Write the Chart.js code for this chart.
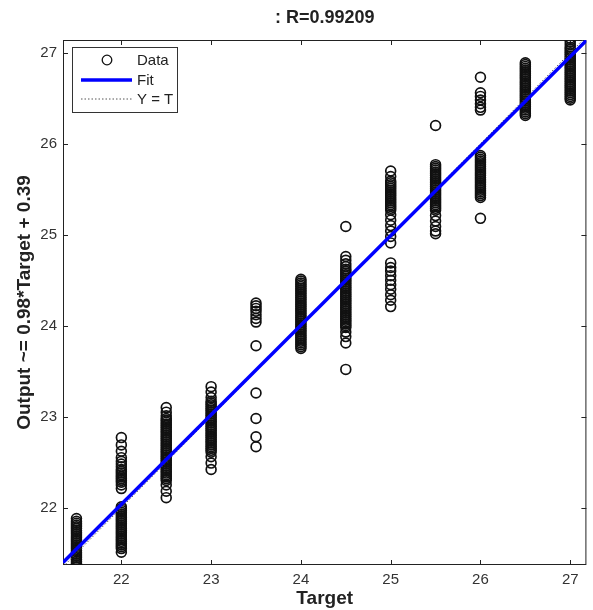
<!DOCTYPE html>
<html>
<head>
<meta charset="utf-8">
<script src="https://cdn.jsdelivr.net/npm/chart.js@4/dist/chart.umd.min.js"></script>
<style>
  html, body { margin: 0; padding: 0; background: #fff; }
  #wrap { width: 593px; height: 610px; }
</style>
</head>
<body>
<div id="wrap"><canvas id="regChart" width="593" height="610"></canvas></div>
<script>
// Regression plot: target vs network output
const TITLE = ": R=0.99209";
const X_LABEL = "Target";
const Y_LABEL = "Output ~= 0.98*Target + 0.39";
const xTicks = [22, 23, 24, 25, 26, 27];
const yTicks = [22, 23, 24, 25, 26, 27];
const xLimits = [21.35, 27.18];
const yLimits = [21.37, 27.14];
const fitSlope = 0.984;
const fitIntercept = 0.39;

const targets = [21.5, 22, 22.5, 23, 23.5, 24, 24.5, 25, 25.5, 26, 26.5, 27];
const out215 = [21.35, 21.37, 21.39, 21.41, 21.43, 21.45, 21.47, 21.49, 21.51, 21.53, 21.55, 21.57, 21.59, 21.61, 21.63, 21.65, 21.67, 21.69, 21.71, 21.73, 21.75, 21.77, 21.79, 21.81, 21.83, 21.85, 21.88];
const out22 = [22.77, 22.69, 22.62, 22.55, 22.51, 22.48, 22.45, 22.42, 22.40, 22.38, 22.36, 22.34, 22.32, 22.30, 22.28, 22.25, 22.21,
  22.01, 21.99, 21.97, 21.95, 21.93, 21.91, 21.89, 21.87, 21.85, 21.83, 21.81, 21.79, 21.77, 21.75, 21.73, 21.71, 21.69, 21.67, 21.65, 21.63, 21.61, 21.59, 21.57, 21.55, 21.51];
const out225 = [23.10, 23.05, 23.01, 22.98, 22.96, 22.94, 22.92, 22.90, 22.88, 22.86, 22.84, 22.82, 22.80, 22.78, 22.76, 22.74, 22.72, 22.70, 22.68, 22.66, 22.64, 22.62, 22.60, 22.58, 22.56, 22.54, 22.52, 22.50, 22.48, 22.46, 22.44, 22.42, 22.40, 22.38, 22.36, 22.34, 22.32, 22.30, 22.25, 22.18, 22.11];
const out23 = [23.33, 23.27, 23.21, 23.17, 23.15, 23.13, 23.11, 23.09, 23.07, 23.05, 23.03, 23.01, 22.99, 22.97, 22.95, 22.93, 22.91, 22.89, 22.87, 22.85, 22.83, 22.81, 22.79, 22.77, 22.75, 22.73, 22.71, 22.69, 22.67, 22.65, 22.63, 22.61, 22.56, 22.49, 22.42];
const out235 = [24.25, 24.22, 24.19, 24.16, 24.12, 24.08, 24.04, 23.78, 23.26, 22.98, 22.78, 22.67];
const out24 = [24.51, 24.49, 24.47, 24.45, 24.43, 24.41, 24.39, 24.37, 24.35, 24.33, 24.31, 24.29, 24.27, 24.25, 24.23, 24.21, 24.19, 24.17, 24.15, 24.13, 24.11, 24.09, 24.07, 24.05, 24.03, 24.01, 23.99, 23.97, 23.95, 23.93, 23.91, 23.89, 23.87, 23.85, 23.83, 23.81, 23.79, 23.77, 23.75];
const out245 = [25.09, 24.76, 24.72, 24.68, 24.65, 24.62, 24.60, 24.58, 24.56, 24.54, 24.52, 24.50, 24.48, 24.46, 24.44, 24.42, 24.40, 24.38, 24.36, 24.34, 24.32, 24.30, 24.28, 24.26, 24.24, 24.22, 24.20, 24.18, 24.16, 24.14, 24.12, 24.10, 24.08, 24.06, 24.04, 24.02, 24.00, 23.98, 23.93, 23.88, 23.81, 23.52];
const out25 = [25.70, 25.64, 25.59, 25.57, 25.55, 25.53, 25.51, 25.49, 25.47, 25.45, 25.43, 25.41, 25.39, 25.37, 25.35, 25.33, 25.31, 25.29, 25.27, 25.22, 25.16, 25.10, 25.04, 24.98, 24.91,
  24.69, 24.64, 24.60, 24.55, 24.50, 24.45, 24.40, 24.34, 24.28, 24.21];
const out255 = [26.20, 25.77, 25.75, 25.73, 25.71, 25.69, 25.67, 25.65, 25.63, 25.61, 25.59, 25.57, 25.55, 25.53, 25.51, 25.49, 25.47, 25.45, 25.43, 25.41, 25.39, 25.37, 25.35, 25.33, 25.31, 25.29, 25.27, 25.21, 25.15, 25.09, 25.04, 25.01];
const out26 = [26.73, 26.56, 26.52, 26.48, 26.44, 26.40, 26.37,
  25.87, 25.85, 25.83, 25.81, 25.79, 25.77, 25.75, 25.73, 25.71, 25.69, 25.67, 25.65, 25.63, 25.61, 25.59, 25.57, 25.55, 25.53, 25.51, 25.49, 25.47, 25.45, 25.43, 25.41, 25.18];
const out265 = [26.89, 26.87, 26.85, 26.83, 26.81, 26.79, 26.77, 26.75, 26.73, 26.71, 26.69, 26.67, 26.65, 26.63, 26.61, 26.59, 26.57, 26.55, 26.53, 26.51, 26.49, 26.47, 26.45, 26.43, 26.41, 26.39, 26.37, 26.35, 26.33, 26.31];
const out27 = [27.16, 27.12, 27.09, 27.06, 27.04, 27.02, 27.00, 26.98, 26.96, 26.94, 26.92, 26.90, 26.88, 26.86, 26.84, 26.82, 26.80, 26.78, 26.76, 26.74, 26.72, 26.70, 26.68, 26.66, 26.64, 26.62, 26.60, 26.58, 26.56, 26.54, 26.52, 26.50, 26.48];

const outputsByTarget = [out215, out22, out225, out23, out235, out24, out245, out25, out255, out26, out265, out27];

const scatterPoints = [];
targets.forEach((t, i) => {
  outputsByTarget[i].forEach(v => scatterPoints.push({ x: t, y: v }));
});

const fitPoints = xLimits.map(x => ({ x: x, y: fitSlope * x + fitIntercept }));
const identityPoints = xLimits.map(x => ({ x: x, y: x }));

const FONT = "'Liberation Sans', Arial, Helvetica, sans-serif";

// box + inward ticks on all four sides, like matlab
const frameTicks = {
  id: "frameTicks",
  beforeDatasetsDraw(chart) {
    const { ctx, chartArea: a, scales } = chart;
    const len = 5;
    ctx.save();
    ctx.strokeStyle = "#222";
    ctx.lineWidth = 1;
    ctx.strokeRect(a.left + 0.5, a.top + 0.5, a.right - a.left - 1, a.bottom - a.top - 1);
    ctx.beginPath();
    xTicks.forEach(v => {
      const px = Math.round(scales.x.getPixelForValue(v)) + 0.5;
      ctx.moveTo(px, a.bottom); ctx.lineTo(px, a.bottom - len);
      ctx.moveTo(px, a.top); ctx.lineTo(px, a.top + len);
    });
    yTicks.forEach(v => {
      const py = Math.round(scales.y.getPixelForValue(v)) + 0.5;
      ctx.moveTo(a.left, py); ctx.lineTo(a.left + len, py);
      ctx.moveTo(a.right, py); ctx.lineTo(a.right - len, py);
    });
    ctx.stroke();
    // title centred over the axes
    ctx.fillStyle = "#222";
    ctx.font = "bold 18px " + FONT;
    ctx.textAlign = "center";
    ctx.textBaseline = "middle";
    ctx.fillText(TITLE, (a.left + a.right) / 2, 18);
    ctx.restore();
  }
};

// legend box in upper left, inside the axes
const boxLegend = {
  id: "boxLegend",
  afterDatasetsDraw(chart) {
    const { ctx, chartArea: a } = chart;
    const x0 = a.left + 9, y0 = a.top + 7, w = 105, h = 65;
    ctx.save();
    ctx.fillStyle = "#fff";
    ctx.fillRect(x0, y0, w, h);
    ctx.strokeStyle = "#333";
    ctx.lineWidth = 1;
    ctx.strokeRect(x0 + 0.5, y0 + 0.5, w, h);
    ctx.font = "15px " + FONT;
    ctx.textBaseline = "middle";
    ctx.fillStyle = "#222";
    const rows = [y0 + 13, y0 + 33, y0 + 52];
    chart.data.datasets.forEach((ds, i) => {
      const y = rows[i];
      if (ds.type === "scatter") {
        ctx.beginPath();
        ctx.arc(x0 + 35, y, 4.8, 0, Math.PI * 2);
        ctx.strokeStyle = ds.borderColor;
        ctx.lineWidth = 1.3;
        ctx.stroke();
      } else {
        ctx.beginPath();
        ctx.moveTo(x0 + 9, y);
        ctx.lineTo(x0 + 60, y);
        ctx.strokeStyle = ds.borderColor;
        ctx.lineWidth = ds.borderWidth;
        ctx.setLineDash(ds.borderDash || []);
        ctx.stroke();
        ctx.setLineDash([]);
      }
      ctx.fillText(ds.label, x0 + 65, y + 1);
    });
    ctx.restore();
  }
};

new Chart(document.getElementById("regChart"), {
  data: {
    datasets: [
      {
        type: "scatter", label: "Data", data: scatterPoints, order: 3,
        pointStyle: "circle", pointRadius: 4.9, borderWidth: 1.7,
        borderColor: "#111", backgroundColor: "rgba(0,0,0,0)"
      },
      {
        type: "line", label: "Fit", data: fitPoints, order: 1,
        borderColor: "#0000ff", borderWidth: 3.5, pointRadius: 0, fill: false
      },
      {
        type: "line", label: "Y = T", data: identityPoints, order: 2,
        borderColor: "#555", borderWidth: 1, borderDash: [1.5, 2], pointRadius: 0, fill: false
      }
    ]
  },
  options: {
    responsive: false,
    animation: false,
    layout: { padding: { left: 0, right: 4, top: 40, bottom: 0 } },
    plugins: {
      legend: { display: false },
      tooltip: { enabled: false },
      title: { display: false }
    },
    scales: {
      x: {
        type: "linear", min: xLimits[0], max: xLimits[1],
        afterBuildTicks: s => { s.ticks = xTicks.map(v => ({ value: v })); },
        afterFit: s => { s.height = 45; },
        grid: { display: false, drawTicks: false, tickLength: 0 }, border: { display: false },
        ticks: { color: "#333", padding: 6, font: { family: FONT, size: 15 } },
        title: {
          display: true, text: X_LABEL, color: "#222",
          font: { family: FONT, size: 19, weight: "bold" }, padding: { top: 0, bottom: 0 }
        }
      },
      y: {
        type: "linear", min: yLimits[0], max: yLimits[1],
        afterBuildTicks: s => { s.ticks = yTicks.map(v => ({ value: v })); },
        afterFit: s => { s.width = 63; },
        grid: { display: false, drawTicks: false, tickLength: 0 }, border: { display: false },
        ticks: { color: "#333", padding: 6, font: { family: FONT, size: 15 } },
        title: {
          display: true, text: Y_LABEL, color: "#222",
          font: { family: FONT, size: 19, weight: "bold" }, padding: { top: 13, bottom: 0 }
        }
      }
    }
  },
  plugins: [frameTicks, boxLegend]
});
</script>
</body>
</html>
